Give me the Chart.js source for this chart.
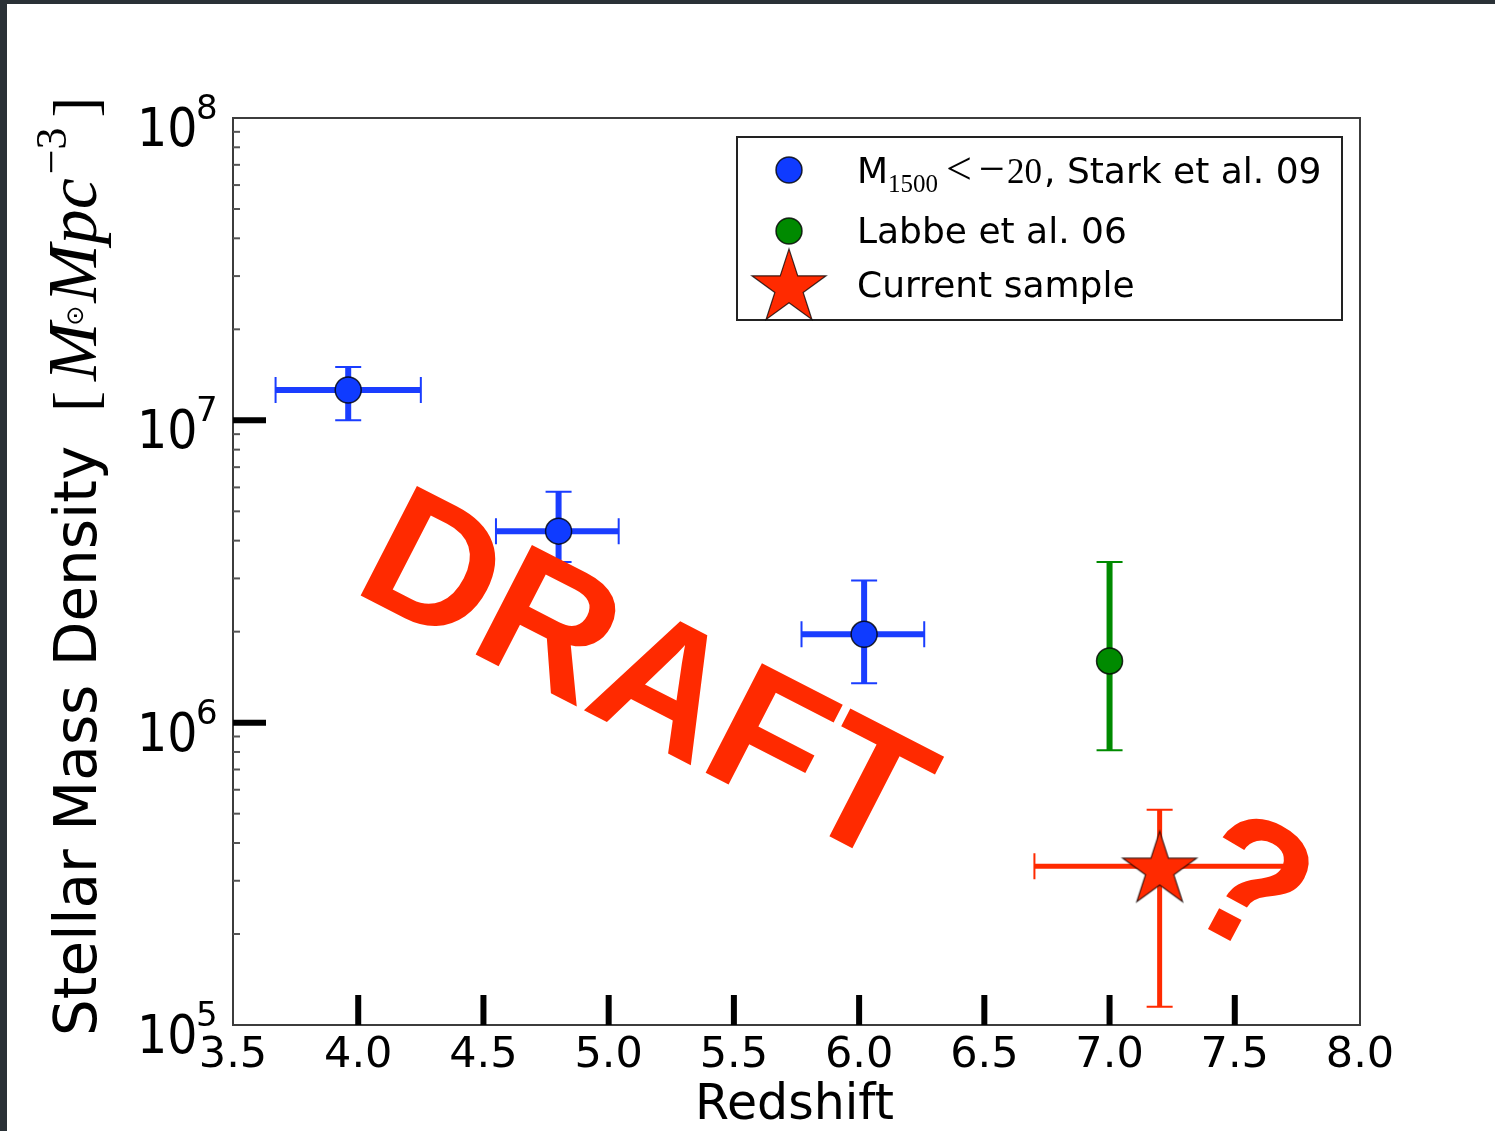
<!DOCTYPE html>
<html>
<head>
<meta charset="utf-8">
<script src="https://cdn.jsdelivr.net/npm/chart.js@4.4.1/dist/chart.umd.min.js"></script>
<style>
  html, body { margin: 0; padding: 0; background: #2a3136; }
  #wrap { position: relative; width: 1495px; height: 1131px; }
</style>
</head>
<body>
<div id="wrap"><canvas id="massChart"></canvas></div>
<script>
// Stark et al. 09 (M1500 < -20)
const starkZ = [3.96, 4.80, 6.02];
const starkMass = [1.26e7, 4.3e6, 1.96e6];
const starkZMin = [3.67, 4.55, 5.77];
const starkZMax = [4.25, 5.04, 6.26];
const starkMassMin = [1.0e7, 3.4e6, 1.35e6];
const starkMassMax = [1.5e7, 5.8e6, 2.95e6];

// Labbe et al. 06
const labbeZ = [7.0];
const labbeMass = [1.6e6];
const labbeMassMin = [8.1e5];
const labbeMassMax = [3.4e6];

// Current sample
const currentZ = [7.2];
const currentMass = [3.35e5];
const currentZMin = [6.7];
const currentZMax = [7.7];
const currentMassMin = [1.15e5];
const currentMassMax = [5.15e5];

const xTickValues = [3.5, 4.0, 4.5, 5.0, 5.5, 6.0, 6.5, 7.0, 7.5, 8.0];
const yTickExponents = [5, 6, 7, 8];

const BLUE = "#0f3bff";
const GREEN = "#008a00";
const RED = "#ff2a00";

function makeStar(R) {
  const c = document.createElement("canvas");
  c.width = c.height = Math.ceil(2 * R + 4);
  const g = c.getContext("2d");
  starPath(g, c.width / 2, c.height / 2 + R * 0.1, R);
  g.fillStyle = RED;
  g.fill();
  g.lineWidth = 1.2;
  g.strokeStyle = "rgba(0,0,0,0.75)";
  g.stroke();
  return c;
}

function starPath(g, cx, cy, R) {
  const r = R * 0.382;
  g.beginPath();
  for (let i = 0; i < 10; i++) {
    const a = -Math.PI / 2 + i * Math.PI / 5;
    const rr = i % 2 === 0 ? R : r;
    const px = cx + rr * Math.cos(a), py = cy + rr * Math.sin(a);
    if (i === 0) g.moveTo(px, py); else g.lineTo(px, py);
  }
  g.closePath();
}

const starImg = makeStar(39);

function pts(xs, ys) {
  return xs.map((x, i) => ({ x: x, y: ys[i] }));
}

function drawErrors(chart, xs, ys, xMin, xMax, yMin, yMax, color, lw) {
  const ctx = chart.ctx, sx = chart.scales.x, sy = chart.scales.y;
  ctx.save();
  ctx.strokeStyle = color;
  ctx.lineCap = "butt";
  xs.forEach((x, i) => {
    const px = sx.getPixelForValue(x), py = sy.getPixelForValue(ys[i]);
    const cap = 13;
    if (xMin) {
      const a = sx.getPixelForValue(xMin[i]), b = sx.getPixelForValue(xMax[i]);
      ctx.lineWidth = lw;
      ctx.beginPath(); ctx.moveTo(a, py); ctx.lineTo(b, py); ctx.stroke();
      ctx.lineWidth = 2;
      ctx.beginPath();
      ctx.moveTo(a, py - cap); ctx.lineTo(a, py + cap);
      ctx.moveTo(b, py - cap); ctx.lineTo(b, py + cap);
      ctx.stroke();
    }
    if (yMin) {
      const a = sy.getPixelForValue(yMin[i]), b = sy.getPixelForValue(yMax[i]);
      ctx.lineWidth = lw;
      ctx.beginPath(); ctx.moveTo(px, a); ctx.lineTo(px, b); ctx.stroke();
      ctx.lineWidth = 2;
      ctx.beginPath();
      ctx.moveTo(px - cap, a); ctx.lineTo(px + cap, a);
      ctx.moveTo(px - cap, b); ctx.lineTo(px + cap, b);
      ctx.stroke();
    }
  });
  ctx.restore();
}

function drawYTitle(ctx) {
  ctx.save();
  ctx.translate(96, 1036);
  ctx.rotate(-Math.PI / 2);
  ctx.fillStyle = "#000";
  ctx.textBaseline = "alphabetic";
  let x = 0;
  ctx.font = '58px "DejaVu Sans"';
  const t1 = "Stellar Mass Density";
  ctx.fillText(t1, x, 0);
  x += ctx.measureText(t1).width + 34;
  ctx.font = '62px "Liberation Serif"';
  ctx.fillText("[", x, 0);
  x += ctx.measureText("[").width + 10;
  ctx.font = 'italic 70px "Liberation Serif"';
  ctx.fillText("M", x, 0);
  x += ctx.measureText("M").width;
  ctx.font = '24px "DejaVu Sans"';
  ctx.fillText("\u2299", x - 3, -13);
  x += ctx.measureText("\u2299").width;
  ctx.font = 'italic 70px "Liberation Serif"';
  ctx.fillText("Mpc", x, 0);
  x += ctx.measureText("Mpc").width + 4;
  ctx.font = '44px "Liberation Serif"';
  ctx.fillText("\u22123", x, -30);
  x += ctx.measureText("\u22123").width + 10;
  ctx.font = '62px "Liberation Serif"';
  ctx.fillText("]", x, 0);
  ctx.restore();
}

function drawLegend(ctx) {
  ctx.save();
  ctx.fillStyle = "#fff";
  ctx.fillRect(737, 137, 605, 183);
  ctx.lineWidth = 2;
  ctx.strokeStyle = "#222";
  ctx.strokeRect(737, 137, 605, 183);

  ctx.lineWidth = 1.5;
  ctx.strokeStyle = "rgba(0,0,0,0.8)";
  ctx.fillStyle = BLUE;
  ctx.beginPath(); ctx.arc(789, 170, 13, 0, Math.PI * 2); ctx.fill(); ctx.stroke();
  ctx.fillStyle = GREEN;
  ctx.beginPath(); ctx.arc(789, 231, 13, 0, Math.PI * 2); ctx.fill(); ctx.stroke();
  ctx.drawImage(starImg, 789 - starImg.width / 2, 284 - starImg.height / 2);

  ctx.fillStyle = "#000";
  ctx.textBaseline = "alphabetic";
  ctx.font = '36px "DejaVu Sans"';
  ctx.fillText("M", 857, 183);
  ctx.font = '25px "Liberation Serif"';
  ctx.fillText("1500", 888, 192);
  ctx.font = '46px "Liberation Serif"';
  ctx.fillText("<", 946, 184);
  ctx.fillText("\u2212", 979, 184);
  ctx.font = '35px "Liberation Serif"';
  ctx.fillText("20", 1007, 183);
  ctx.font = '36px "DejaVu Sans"';
  ctx.fillText(", Stark et al. 09", 1044, 183);
  ctx.fillText("Labbe et al. 06", 857, 243);
  ctx.fillText("Current sample", 857, 297);
  ctx.restore();
}

const decorPlugin = {
  id: "decor",
  beforeDraw(chart) {
    const ctx = chart.ctx;
    ctx.save();
    ctx.fillStyle = "#2a3136";
    ctx.fillRect(0, 0, chart.width, chart.height);
    ctx.fillStyle = "#ffffff";
    ctx.fillRect(7, 4, chart.width - 7, chart.height - 4);
    ctx.restore();
  },
  beforeDatasetsDraw(chart) {
    drawErrors(chart, starkZ, starkMass, starkZMin, starkZMax, starkMassMin, starkMassMax, "#1a3dff", 6);
    drawErrors(chart, labbeZ, labbeMass, null, null, labbeMassMin, labbeMassMax, GREEN, 6);
    drawErrors(chart, currentZ, currentMass, currentZMin, currentZMax, currentMassMin, currentMassMax, RED, 5);
  },
  afterDatasetsDraw(chart) {
    const ctx = chart.ctx, sx = chart.scales.x, sy = chart.scales.y;
    const a = chart.chartArea;
    ctx.save();
    // frame
    ctx.lineWidth = 2;
    ctx.strokeStyle = "#3c3c3c";
    ctx.strokeRect(a.left, a.top, a.right - a.left, a.bottom - a.top);
    // x major ticks
    ctx.strokeStyle = "#000";
    ctx.lineWidth = 6;
    xTickValues.forEach(v => {
      const px = sx.getPixelForValue(v);
      if (px <= a.left + 2 || px >= a.right - 2) return;
      ctx.beginPath(); ctx.moveTo(px, a.bottom); ctx.lineTo(px, a.bottom - 30); ctx.stroke();
    });
    // y major and minor ticks
    yTickExponents.forEach(e => {
      const py = sy.getPixelForValue(Math.pow(10, e));
      if (py > a.top + 2 && py < a.bottom - 2) {
        ctx.lineWidth = 6;
        ctx.strokeStyle = "#000";
        ctx.beginPath(); ctx.moveTo(a.left, py); ctx.lineTo(a.left + 33, py); ctx.stroke();
      }
      if (e < 8) {
        ctx.lineWidth = 2;
        ctx.strokeStyle = "#555";
        for (let m = 2; m <= 9; m++) {
          const pm = sy.getPixelForValue(m * Math.pow(10, e));
          ctx.beginPath(); ctx.moveTo(a.left, pm); ctx.lineTo(a.left + 7, pm); ctx.stroke();
        }
      }
    });
    // x tick labels
    ctx.fillStyle = "#000";
    ctx.textAlign = "center";
    ctx.textBaseline = "alphabetic";
    ctx.font = '43px "DejaVu Sans"';
    xTickValues.forEach(v => {
      ctx.fillText(v.toFixed(1), sx.getPixelForValue(v), a.bottom + 42);
    });
    // y tick labels
    ctx.textAlign = "left";
    yTickExponents.forEach(e => {
      const py = sy.getPixelForValue(Math.pow(10, e));
      ctx.save();
      ctx.translate(137, py + 28);
      ctx.scale(0.88, 1);
      ctx.font = '54px "DejaVu Sans"';
      ctx.fillText("10", 0, 0);
      ctx.restore();
      ctx.font = '34px "DejaVu Sans"';
      ctx.fillText(String(e), 196, py + 1);
    });
    // axis titles
    ctx.textAlign = "center";
    ctx.font = '49px "DejaVu Sans"';
    ctx.fillText("Redshift", (a.left + a.right) / 2 - 2, 1119);
    ctx.textAlign = "left";
    drawYTitle(ctx);
    drawLegend(ctx);
    // watermark
    ctx.fillStyle = RED;
    ctx.font = 'bold 179px "Liberation Sans"';
    ctx.save();
    ctx.translate(350, 590);
    ctx.rotate(27.2 * Math.PI / 180);
    ctx.fillText("DRAFT", 0, 0);
    ctx.restore();
    ctx.save();
    ctx.translate(1174, 911);
    ctx.rotate(28 * Math.PI / 180);
    ctx.font = 'bold 180px "Liberation Sans"';
    ctx.fillText("?", 0, 0);
    ctx.restore();
    ctx.restore();
  }
};

new Chart(document.getElementById("massChart"), {
  type: "scatter",
  data: {
    datasets: [
      {
        label: "Stark et al. 09",
        data: pts(starkZ, starkMass),
        pointStyle: "circle",
        pointRadius: 13,
        backgroundColor: BLUE,
        borderColor: "rgba(0,0,0,0.8)",
        borderWidth: 1.5
      },
      {
        label: "Labbe et al. 06",
        data: pts(labbeZ, labbeMass),
        pointStyle: "circle",
        pointRadius: 13,
        backgroundColor: GREEN,
        borderColor: "rgba(0,0,0,0.8)",
        borderWidth: 1.5
      },
      {
        label: "Current sample",
        data: pts(currentZ, currentMass),
        pointStyle: starImg,
        pointRadius: 39
      }
    ]
  },
  options: {
    responsive: true,
    maintainAspectRatio: false,
    animation: false,
    events: [],
    layout: { padding: { top: 118, right: 135, left: 0, bottom: 0 } },
    plugins: { legend: { display: false }, tooltip: { enabled: false } },
    scales: {
      x: {
        type: "linear",
        min: 3.5,
        max: 8.0,
        grid: { display: false },
        border: { display: false },
        ticks: { display: false },
        afterFit(s) { s.height = 106; }
      },
      y: {
        type: "logarithmic",
        min: 1e5,
        max: 1e8,
        grid: { display: false },
        border: { display: false },
        ticks: { display: false },
        afterFit(s) { s.width = 233; }
      }
    }
  },
  plugins: [decorPlugin]
});
</script>
</body>
</html>
